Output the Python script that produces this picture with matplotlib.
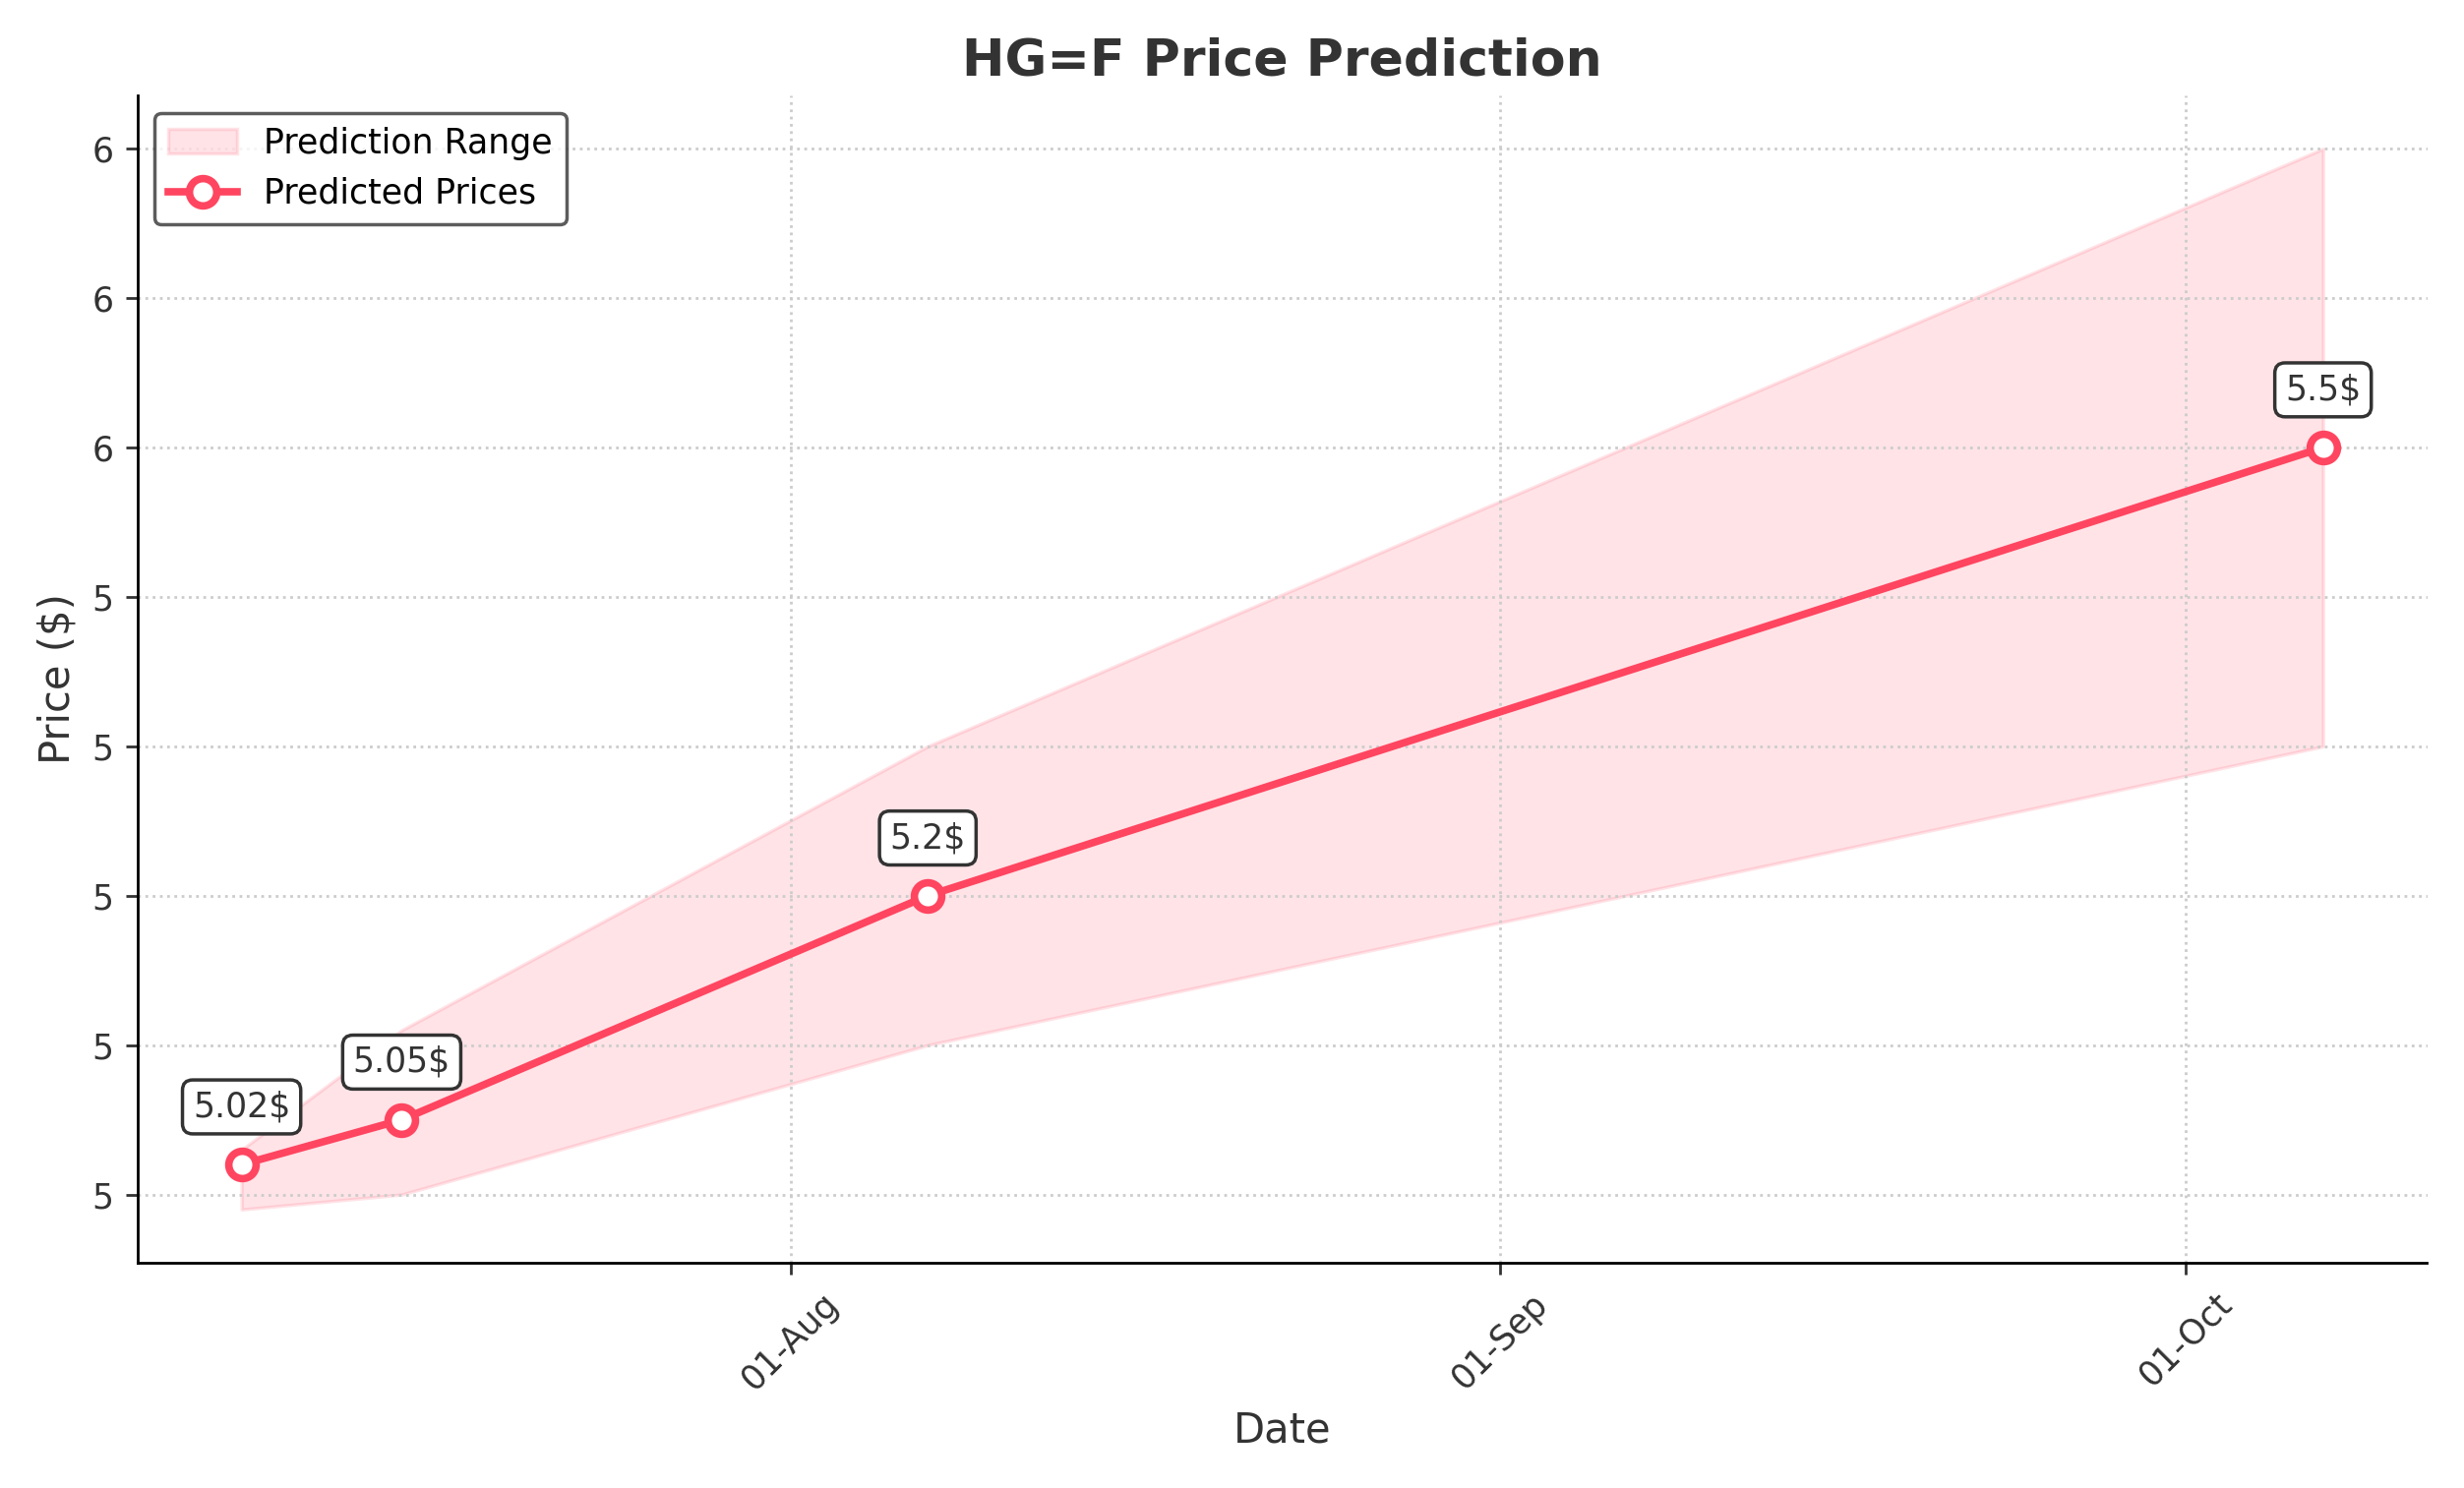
import matplotlib
matplotlib.use("Agg")
import matplotlib.pyplot as plt
import matplotlib.dates as mdates
import pandas as pd

dates = pd.to_datetime(["2024-07-08", "2024-07-15", "2024-08-07", "2024-10-07"])
prices = [5.02, 5.05, 5.2, 5.5]
lower = [4.99, 5.0, 5.1, 5.3]
upper = [5.03, 5.11, 5.3, 5.7]
labels = ["5.02$", "5.05$", "5.2$", "5.5$"]
annot_idx = [0, 1, 2, 3]

color = "#FF4560"
fig, ax = plt.subplots(figsize=(10.02, 6.052), dpi=250)
ax.fill_between(dates, lower, upper, color=color, alpha=0.15, label="Prediction Range")
ax.plot(dates, prices, color=color, lw=2.2, marker="o", ms=8, mfc="white",
        mew=2.2, label="Predicted Prices")
for i in annot_idx:
    ax.annotate(labels[i], (dates[i], prices[i]), xytext=(0, 12), textcoords="offset points",
                ha="center", va="bottom", fontsize=10, color="#333333",
                bbox=dict(boxstyle="round,pad=0.3", fc="white", ec="#333333", lw=1))
ax.set_title("HG=F Price Prediction", fontsize=15, fontweight="bold", color="#333333")
ax.set_xlabel("Date", fontsize=12, color="#333333")
ax.set_ylabel("Price ($)", fontsize=12, color="#333333")
ax.xaxis.set_major_locator(mdates.MonthLocator())
ax.xaxis.set_major_formatter(mdates.DateFormatter("%d-%b"))
ax.yaxis.set_major_formatter(matplotlib.ticker.FormatStrFormatter("%.0f"))
plt.setp(ax.get_xticklabels(), rotation=45)
ax.tick_params(colors="#333333")
ax.grid(True, linestyle=":", color="#cccccc", lw=0.8)
for s in ["top", "right"]:
    ax.spines[s].set_visible(False)
ax.legend(loc="upper left", edgecolor="#333333")
fig.tight_layout()
fig.savefig("out.png")
